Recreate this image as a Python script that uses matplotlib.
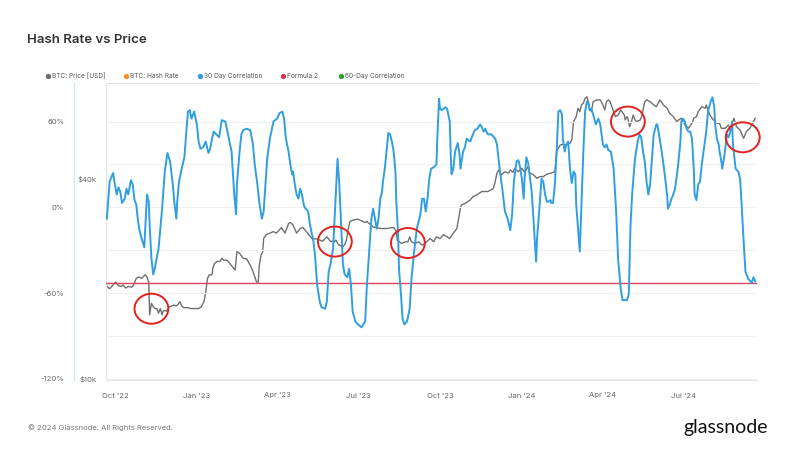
import numpy as np
import matplotlib
matplotlib.use('Agg')
import matplotlib.pyplot as plt
import matplotlib.dates as mdates
from matplotlib.patches import Ellipse
from matplotlib.lines import Line2D
from matplotlib.ticker import NullLocator, FixedLocator

START = np.datetime64('2022-09-21')
END = np.datetime64('2024-09-21')

# 30 day correlation, days after START and value in %
corr_days = [1, 4, 8, 10, 12, 14, 16, 18, 21, 23, 25, 28, 30, 32, 34, 36, 38, 40, 43, 45,
             46, 48, 49, 51, 53, 55, 59, 63, 66, 69, 72, 75, 77, 79, 80, 82, 85, 88, 90, 92,
             94, 96, 99, 102, 104, 106, 109, 112, 115, 117, 119, 121, 124, 127, 130, 134, 137, 141, 144, 146,
             147, 150, 152, 154, 158, 162, 165, 167, 170, 172, 175, 177, 179, 181, 184, 188, 192, 195, 198, 200,
             202, 205, 207, 209, 210, 212, 214, 216, 218, 220, 222, 223, 227, 229, 233, 235, 237, 240, 242, 246,
             248, 250, 252, 255, 258, 260, 262, 265, 266, 268, 271, 273, 275, 277, 280, 283, 287, 291, 293, 296,
             298, 300, 302, 304, 306, 308, 310, 311, 313, 315, 317, 319, 321, 323, 325, 326, 328, 329, 331, 333,
             335, 338, 341, 343, 346, 349, 353, 355, 357, 359, 361, 363, 365, 368, 371, 372, 374, 375, 377, 379,
             381, 383, 386, 387, 388, 390, 392, 395, 397, 398, 401, 403, 405, 409, 412, 414, 417, 420, 422, 424,
             426, 427, 429, 433, 437, 439, 442, 445, 448, 451, 454, 456, 458, 461, 463, 465, 467, 469, 470, 472,
             474, 478, 480, 482, 483, 484, 487, 489, 491, 493, 495, 497, 499, 500, 502, 504, 506, 508, 510, 512,
             513, 515, 517, 519, 521, 523, 525, 527, 528, 530, 532, 534, 536, 538, 540, 542, 543, 545, 547, 550,
             553, 555, 558, 560, 562, 564, 567, 570, 573, 575, 578, 580, 585, 587, 588, 589, 591, 594, 597, 599,
             601, 603, 605, 607, 609, 611, 613, 615, 618, 619, 621, 624, 627, 630, 631, 633, 635, 637, 639, 642,
             645, 646, 648, 650, 652, 654, 656, 658, 660, 661, 663, 665, 667, 669, 671, 674, 676, 679, 681, 683,
             684, 686, 688, 689, 691, 692, 695, 697, 699, 701, 703, 704, 707, 710, 712, 714, 716, 718, 721, 724,
             725, 727, 729]
corr_pct = [-8, 18, 24, 16, 9, 14, 11, 3, 6, 13, 9, 19, 16, 5, 2, -10, -17, -22, -28, -3,
            9, 4, -12, -36, -47, -42, -29, -1, 25, 38, 32, 16, 2, -8, 4, 18, 27, 35, 51, 67,
            68, 62, 67, 58, 46, 41, 42, 46, 38, 41, 48, 53, 51, 49, 61, 60, 51, 39, 9, -5,
            16, 39, 51, 54, 55, 54, 44, 30, 16, 4, -8, -3, 16, 34, 48, 60, 62, 66, 67, 62,
            48, 39, 30, 23, 25, 16, 9, 6, 13, 9, 2, 0, -3, -12, -24, -36, -54, -66, -70, -71,
            -66, -45, -40, -29, 9, 34, 16, -26, -40, -47, -49, -43, -54, -73, -80, -82, -84, -80, -54, -26,
            -8, -1, -8, -15, -8, 6, 11, 18, 27, 39, 52, 51, 46, 39, 25, 4, -19, -43, -59, -78,
            -82, -80, -71, -50, -31, -15, -5, 6, 6, -3, 6, 20, 27, 28, 30, 48, 76, 69, 68, 69,
            70, 69, 60, 39, 23, 27, 39, 45, 37, 27, 39, 42, 48, 46, 51, 54, 55, 58, 56, 53,
            55, 53, 51, 51, 48, 44, 27, 13, -3, -8, -16, -5, 18, 32, 33, 28, 20, 6, 20, 35,
            31, 11, -8, -29, -38, -22, 2, 20, 18, 9, 4, 4, 5, 3, 3, 16, 39, 67, 68, 65,
            48, 39, 44, 46, 27, 17, 25, 23, 2, -15, -31, 4, 39, 67, 74, 72, 68, 69, 65, 58,
            62, 58, 44, 42, 44, 40, 39, 27, -5, -36, -57, -65, -65, -61, -36, -12, 11, 34, 46, 51,
            49, 39, 32, 18, 9, 16, 34, 51, 58, 58, 51, 39, 25, 9, -1, 2, 6, 9, 13, 27,
            46, 60, 62, 60, 55, 53, 53, 48, 27, 9, 5, 16, 18, 30, 39, 53, 67, 74, 77, 70,
            58, 48, 44, 39, 32, 27, 39, 51, 49, 53, 60, 44, 27, 25, 20, -1, -24, -45, -50, -52,
            -53, -49, -52]

# BTC price, days after START and value in USD thousands
price_days = [1, 4, 8, 11, 14, 17, 19, 22, 25, 29, 31, 34, 37, 40, 44, 46, 48, 49, 51, 53,
              55, 57, 59, 61, 63, 64, 66, 68, 71, 74, 76, 79, 81, 83, 85, 87, 90, 92, 95, 98,
              101, 104, 107, 110, 112, 114, 116, 119, 120, 122, 125, 128, 130, 132, 136, 139, 143, 145, 147, 150,
              154, 158, 162, 165, 169, 171, 172, 174, 176, 177, 180, 184, 188, 191, 193, 197, 201, 205, 207, 210,
              214, 218, 221, 225, 231, 237, 243, 248, 252, 256, 258, 261, 266, 268, 270, 272, 274, 277, 283, 285,
              291, 293, 300, 308, 315, 323, 326, 327, 332, 336, 339, 341, 343, 347, 351, 355, 358, 364, 368, 371,
              375, 379, 383, 386, 390, 394, 396, 398, 399, 403, 409, 412, 416, 422, 429, 435, 437, 439, 441, 444,
              448, 452, 454, 457, 459, 463, 467, 470, 474, 476, 480, 484, 487, 491, 495, 500, 504, 506, 510, 513,
              517, 521, 523, 525, 527, 528, 530, 532, 534, 536, 538, 540, 542, 543, 545, 547, 551, 555, 558, 560,
              562, 564, 566, 568, 572, 575, 578, 582, 583, 585, 586, 588, 590, 592, 594, 596, 600, 602, 603, 605,
              607, 611, 615, 618, 620, 622, 626, 630, 633, 637, 641, 643, 646, 650, 654, 658, 660, 663, 665, 669,
              673, 674, 678, 682, 686, 689, 691, 695, 699, 701, 705, 708, 712, 716, 719, 723, 727, 729]
price_k = [19.0, 18.7, 19.2, 19.6, 19.1, 19.0, 19.2, 18.8, 19.0, 18.9, 19.2, 20.1, 20.3, 20.1, 20.6, 20.3, 19.6, 15.6, 16.9, 16.5,
           16.3, 16.3, 15.8, 16.3, 15.6, 16.0, 16.1, 16.0, 16.5, 16.6, 16.7, 16.6, 16.8, 17.1, 16.6, 16.4, 16.4, 16.4, 16.3, 16.3,
           16.3, 16.3, 16.5, 17.1, 18.3, 20.1, 20.6, 20.6, 21.6, 22.3, 22.6, 22.6, 23.1, 22.8, 22.8, 22.3, 21.6, 21.3, 24.2, 23.9,
           23.1, 23.0, 22.0, 21.1, 19.6, 19.6, 21.8, 23.6, 24.2, 26.5, 27.2, 27.5, 27.8, 27.5, 27.8, 28.6, 27.5, 29.4, 29.6, 29.1,
           27.5, 28.4, 28.6, 27.8, 26.5, 26.4, 26.0, 26.8, 26.0, 25.9, 26.2, 25.4, 25.0, 25.4, 26.2, 28.4, 29.8, 30.1, 30.3, 30.1,
           29.6, 29.8, 28.7, 28.4, 28.4, 28.6, 27.8, 26.2, 25.6, 25.9, 25.9, 26.8, 25.9, 25.6, 25.9, 25.3, 25.6, 26.5, 25.9, 26.8,
           26.5, 27.2, 26.8, 26.5, 27.5, 28.4, 30.5, 32.7, 33.4, 33.8, 34.6, 35.4, 35.8, 36.7, 36.7, 37.5, 39.3, 41.7, 42.6, 41.2,
           42.1, 41.7, 42.6, 41.9, 43.1, 42.1, 43.1, 41.9, 43.6, 41.7, 41.2, 40.2, 40.7, 40.7, 41.4, 41.7, 42.1, 48.4, 50.7, 50.9,
           50.7, 51.3, 52.5, 59.6, 61.0, 61.7, 65.4, 63.9, 66.9, 67.7, 70.1, 70.8, 67.7, 65.4, 63.9, 68.4, 69.3, 69.3, 66.9, 64.6,
           68.4, 69.3, 68.4, 66.1, 61.7, 62.4, 64.6, 62.4, 60.3, 61.7, 61.0, 57.5, 59.6, 62.4, 60.3, 59.6, 60.3, 62.4, 64.6, 68.4,
           69.3, 68.4, 66.9, 66.1, 67.7, 69.3, 66.9, 65.4, 63.1, 61.7, 59.6, 60.3, 61.0, 58.2, 56.9, 58.9, 61.0, 61.7, 63.9, 66.1,
           65.4, 66.9, 62.4, 60.3, 58.9, 58.9, 56.9, 56.9, 58.2, 56.2, 61.0, 57.5, 56.2, 53.1, 55.6, 56.9, 59.6, 61.0]

formula2_pct = -53

# red hand-drawn circles (center day, center %)
circle_days = [51, 257, 339, 586, 715]
circle_pct = [-71, -24, -25, 60, 49]

legend_labels = ['BTC: Price [USD]', 'BTC: Hash Rate', '30 Day Correlation', 'Formula 2', '60-Day Correlation']
legend_colors = ['#6b6b6b', '#f7931a', '#2a9fe0', '#d7334f', '#2ca02c']
legend_x = [48, 126, 200, 283, 341]

x_tick_dates = ['2022-10-01', '2023-01-01', '2023-04-01', '2023-07-01',
                '2023-10-01', '2024-01-01', '2024-04-01', '2024-07-01']
corr_ticks = [60, 0, -60, -120]
corr_tick_labels = ['60%', '0%', '-60%', '-120%']
price_ticks = [10000, 40000]
price_tick_labels = ['\\$10k', '\\$40k']

W, H = 811, 454
plt.rcParams['font.family'] = ['Inter', 'DejaVu Sans']

corr_dates = START + np.array(corr_days, dtype='timedelta64[D]')
price_dates = START + np.array(price_days, dtype='timedelta64[D]')
price_usd = np.array(price_k) * 1000

fig = plt.figure(figsize=(W / 100, H / 100), dpi=100)
fig.patch.set_facecolor('white')

ax = fig.add_axes([106 / W, 1 - 380 / H, 651 / W, 297 / H])
ax.plot(price_dates, price_usd, color='#707070', lw=1.0)
ax.set_yscale('log')
ax.set_ylim(9931, 77900)
ax.set_xlim(START, END)
ax.yaxis.set_major_locator(FixedLocator(price_ticks))
ax.yaxis.set_minor_locator(NullLocator())
ax.set_yticklabels(price_tick_labels)
ax.set_xticks([np.datetime64(d) for d in x_tick_dates])
ax.xaxis.set_major_formatter(mdates.DateFormatter("%b '%y"))
ax.tick_params(axis='x', length=0, pad=9, labelsize=5.5, labelcolor='#666666')
ax.tick_params(axis='y', length=0, pad=6.5, labelsize=5.5, labelcolor='#666666')
for s in ['left', 'bottom', 'top']:
    ax.spines[s].set_color('#e4e4e4')
    ax.spines[s].set_linewidth(0.8)
ax.spines['right'].set_visible(False)

# correlation axis sits on the left, 32 px outside the price axis
ax2 = ax.twinx()
ax2.set_ylim(-120.9, 87.0)
ax2.yaxis.tick_left()
ax2.spines['left'].set_position(('outward', 23))
ax2.spines['left'].set_visible(True)
ax2.spines['left'].set_color('#d3e9f7')
ax2.spines['left'].set_linewidth(1.0)
for s in ['right', 'top', 'bottom']:
    ax2.spines[s].set_visible(False)
ax2.set_yticks(corr_ticks, labels=corr_tick_labels)
ax2.set_yticks([30, -30, -90], minor=True)
ax2.grid(axis='y', which='both', color='#f0f0f0', lw=0.8)
ax2.set_axisbelow(True)
ax2.tick_params(axis='y', which='both', length=0, pad=7, labelsize=5.5, labelcolor='#666666')

ax2.axhline(formula2_pct, color='#d9465a', lw=1.0)
ax2.plot(corr_dates, corr_pct, color='#2f9fe0', lw=1.4)

for d, p in zip(circle_days, circle_pct):
    c = mdates.date2num(START + np.timedelta64(d, 'D'))
    ax2.add_patch(Ellipse((c, p), width=38, height=21, fill=False,
                          ec='#e0231e', lw=1.4, clip_on=False, zorder=5))

fig.text(27 / W, 1 - 40 / H, 'Hash Rate vs Price', fontsize=9.5, fontweight='semibold',
         color='#333333', va='center', ha='left')

ly = 1 - 76 / H
for x, lab, col in zip(legend_x, legend_labels, legend_colors):
    fig.add_artist(Line2D([x / W], [ly], marker='o', ms=2.8, color=col, lw=0,
                          transform=fig.transFigure))
    fig.text((x + 4) / W, ly, lab, fontsize=4.7, color='#555555', va='center', ha='left')

fig.text(28 / W, 1 - 428 / H, '\u00a9 2024 Glassnode. All Rights Reserved.', fontsize=5.5,
         color='#777777', va='center', ha='left')
fig.text(768 / W, 1 - 427 / H, 'glassnode', fontsize=14, color='#111111',
         va='center', ha='right', family=['Lato', 'DejaVu Sans'])

fig.savefig('out.png', dpi=100, facecolor='white')
